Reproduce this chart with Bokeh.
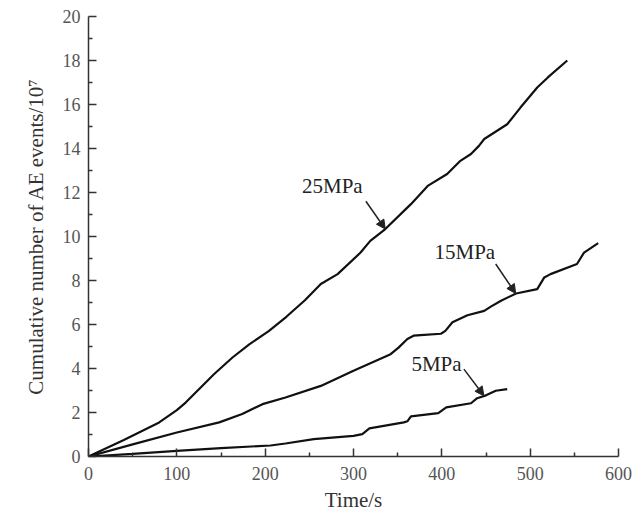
from bokeh.plotting import figure
from bokeh.models import Range1d, FixedTicker, Arrow, NormalHead, Label
from bokeh.embed import file_html
from bokeh.resources import INLINE

# Cumulative AE event counts (x10^7) against time (s) for three confining pressures
t_25 = [0, 40, 80, 100, 110, 127, 142, 163, 182, 204, 224, 245, 263, 282, 308,
        319, 336, 365, 384, 406, 421, 433, 442, 448, 474, 489, 508, 520, 542]
n_25 = [0, 0.75, 1.55, 2.11, 2.45, 3.14, 3.74, 4.5, 5.1, 5.7, 6.35, 7.1, 7.84,
        8.29, 9.27, 9.8, 10.34, 11.47, 12.3, 12.84, 13.44, 13.75, 14.12, 14.43,
        15.1, 15.86, 16.77, 17.23, 18.0]

t_15 = [0, 50, 100, 148, 174, 197, 223, 263, 300, 342, 351, 361, 368, 376, 399,
        404, 412, 429, 448, 455, 467, 484, 508, 516, 523, 553, 561, 577]
n_15 = [0, 0.55, 1.09, 1.55, 1.93, 2.38, 2.68, 3.21, 3.9, 4.65, 4.95, 5.34, 5.49,
        5.52, 5.58, 5.71, 6.1, 6.42, 6.62, 6.8, 7.08, 7.41, 7.61, 8.14, 8.29,
        8.75, 9.27, 9.7]

t_5 = [0, 50, 100, 150, 206, 223, 255, 300, 310, 318, 357, 361, 365, 396, 405,
       433, 440, 450, 461, 474]
n_5 = [0, 0.12, 0.26, 0.38, 0.5, 0.59, 0.79, 0.94, 1.02, 1.28, 1.55, 1.6, 1.82,
       1.97, 2.23, 2.42, 2.65, 2.78, 2.99, 3.06]

series_names = ["25MPa", "15MPa", "5MPa"]

x_ticks = [0, 100, 200, 300, 400, 500, 600]
x_minor = [50, 150, 250, 350, 450, 550]
y_ticks = [0, 2, 4, 6, 8, 10, 12, 14, 16, 18, 20]
y_minor = [1, 3, 5, 7, 9, 11, 13, 15, 17, 19]

x_title = "Time/s"
y_title = "Cumulative number of AE events/10\u2077"

# callout placement (data units): label centre, arrow tail, arrow tip
callouts = {
    "25MPa": dict(lx=276, ly=12.3, x0=314, y0=11.6, x1=336, y1=10.34),
    "15MPa": dict(lx=426, ly=9.28, x0=461, y0=8.75, x1=483.6, y1=7.41),
    "5MPa": dict(lx=394, ly=4.19, x0=425, y0=3.97, x1=447.7, y1=2.76),
}

FONT = "Liberation Serif"

p = figure(width=632, height=514, x_range=Range1d(0, 600), y_range=Range1d(0, 20),
           output_backend="svg", toolbar_location=None,
           min_border_left=88, min_border_right=14, min_border_top=16,
           min_border_bottom=58)
p.outline_line_color = None
p.grid.visible = False
p.background_fill_color = "white"
p.border_fill_color = "white"

for ax, ticks, minor in ((p.xaxis[0], x_ticks, x_minor), (p.yaxis[0], y_ticks, y_minor)):
    ax.ticker = FixedTicker(ticks=ticks, minor_ticks=minor)
    ax.axis_line_color = "#333333"
    ax.axis_line_width = 1.5
    ax.major_tick_line_color = "#333333"
    ax.major_tick_line_width = 1.5
    ax.minor_tick_line_color = "#333333"
    ax.minor_tick_line_width = 1.5
    ax.major_tick_in = 8
    ax.major_tick_out = 0
    ax.minor_tick_in = 4
    ax.minor_tick_out = 0
    ax.major_label_text_font = FONT
    ax.major_label_text_font_size = "18px"
    ax.major_label_text_color = "#555555"
    ax.axis_label_text_font = FONT
    ax.axis_label_text_font_size = "21px"
    ax.axis_label_text_font_style = "normal"
    ax.axis_label_text_color = "#333333"

p.xaxis.axis_label = x_title
p.xaxis.major_label_standoff = 10
p.xaxis.axis_label_standoff = 5
p.yaxis.axis_label = y_title
p.yaxis.major_label_standoff = 8
p.yaxis.axis_label_standoff = 12

for t, n in ((t_25, n_25), (t_15, n_15), (t_5, n_5)):
    p.line(t, n, line_color="#111111", line_width=2.2)

for name in series_names:
    c = callouts[name]
    p.add_layout(Label(x=c["lx"], y=c["ly"], text=name, text_font=FONT,
                       text_font_size="21px", text_color="#222222",
                       text_align="center", text_baseline="middle"))
    p.add_layout(Arrow(x_start=c["x0"], y_start=c["y0"], x_end=c["x1"], y_end=c["y1"],
                       line_color="#222222", line_width=1.5,
                       end=NormalHead(size=9, fill_color="#222222",
                                      line_color="#222222", line_width=1)))

open("out.html", "w").write(file_html(p, INLINE))
